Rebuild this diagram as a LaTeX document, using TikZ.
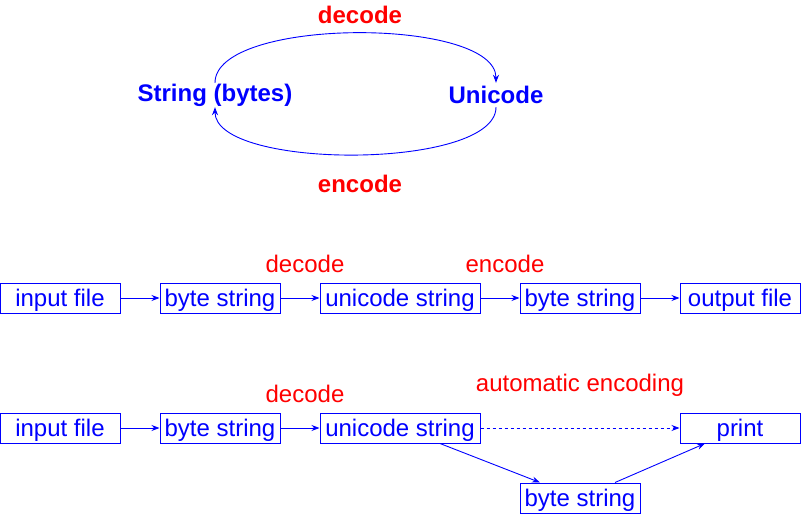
\documentclass[tikz,border=0pt]{standalone}
\usepackage{fontspec}
\setmainfont{Liberation Sans}
\usetikzlibrary{arrows.meta}
\definecolor{myblue}{RGB}{0,0,255}
\definecolor{myred}{RGB}{255,0,0}
\begin{document}
\begin{tikzpicture}[x=1pt,y=-1pt,
  box/.style={draw=myblue,line width=1pt,text=myblue,inner sep=0pt,minimum height=30pt,text height=18pt,text depth=2pt,font=\fontsize{24}{28}\selectfont},
  lbl/.style={text=myred,inner sep=0pt,font=\fontsize{24}{28}\selectfont},
  big/.style={text=myblue,inner sep=0pt,minimum height=24pt,font=\fontsize{24}{28}\selectfont\bfseries},
  bigl/.style={text=myred,inner sep=0pt,font=\fontsize{24}{28}\selectfont\bfseries},
  conn/.style={draw=myblue,line width=0.9pt,-{Stealth[length=8pt,width=6pt]}}]
\useasboundingbox (0,0) rectangle (801,514);
% top cycle
\node[big] (s) at (215,95) {String (bytes)};
\node[big] (u) at (496,95) {Unicode};
\node[bigl] (dec0) at (360,15) {decode};
\node[bigl] (enc0) at (360,184) {encode};
\draw[conn] (s.north) .. controls +(0,-66) and +(0,-66) .. (u.north);
\draw[conn] (u.south) .. controls +(0,63) and +(0,63) .. (s.south);
% row 1
\node[box,minimum width=120pt] (a1) at (60,298) {input file};
\node[box,minimum width=120pt] (b1) at (220,298) {byte string};
\node[box,minimum width=160pt] (c1) at (400,298) {unicode string};
\node[box,minimum width=120pt] (d1) at (580,298) {byte string};
\node[box,minimum width=120pt] (e1) at (740,298) {output file};
\node[lbl] (dl1) at (305,264) {decode};
\node[lbl] (el1) at (505,264) {encode};
\draw[conn] (a1) -- (b1);
\draw[conn] (b1) -- (c1);
\draw[conn] (c1) -- (d1);
\draw[conn] (d1) -- (e1);
% row 2
\node[box,minimum width=120pt] (a2) at (60,428) {input file};
\node[box,minimum width=120pt] (b2) at (220,428) {byte string};
\node[box,minimum width=160pt] (c2) at (400,428) {unicode string};
\node[box,minimum width=120pt] (p2) at (740,428) {print};
\node[box,minimum width=120pt] (d2) at (580,498) {byte string};
\node[lbl] (dl2) at (305,394) {decode};
\node[lbl] (ae2) at (580,385) {automatic encoding};
\draw[conn] (a2) -- (b2);
\draw[conn] (b2) -- (c2);
\draw[conn,dashed] (c2) -- (p2);
\draw[conn] ([xshift=40pt]c2.south) -- ([xshift=-40pt]d2.north);
\draw[conn] ([xshift=35pt]d2.north) -- ([xshift=-35pt]p2.south);
\end{tikzpicture}
\end{document}
